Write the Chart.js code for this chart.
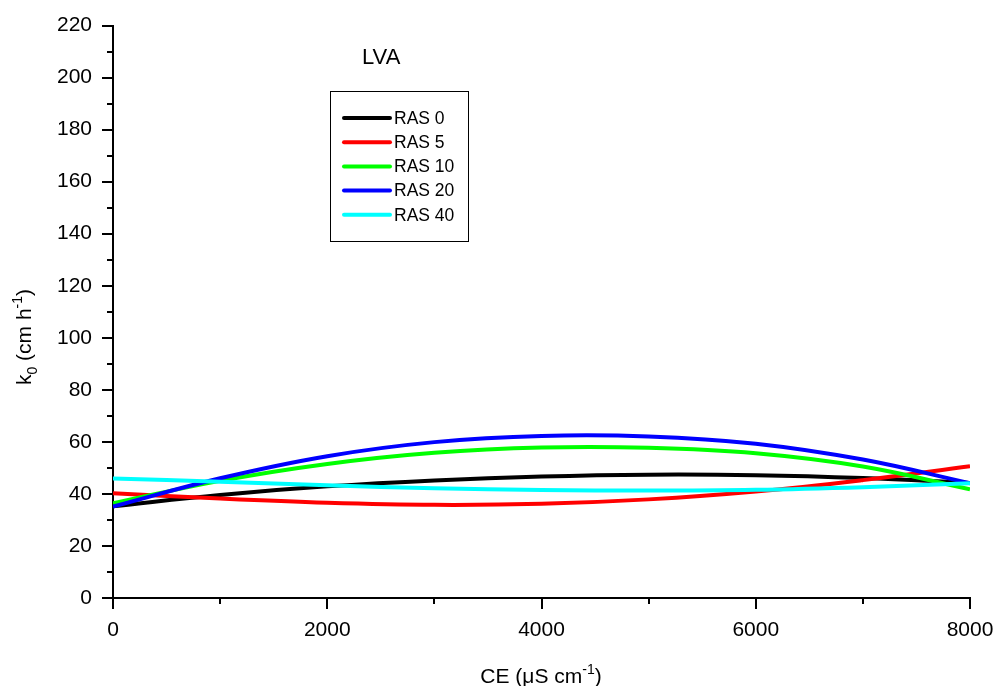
<!DOCTYPE html>
<html>
<head>
<meta charset="utf-8">
<title>LVA – k0 vs CE</title>
<script src="https://cdn.jsdelivr.net/npm/chart.js@4.4.1/dist/chart.umd.min.js"></script>
<style>
  html, body { margin: 0; padding: 0; background: #fff; }
  #wrap { width: 997px; height: 686px; position: relative; }
</style>
</head>
<body>
<div id="wrap"><canvas id="c" width="997" height="686"></canvas></div>
<script>
// Electrical conductivity of irrigation water (µS/cm)
const ceValues = [0, 1000, 2000, 3000, 4000, 5000, 6000, 7000, 8000];

// Fitted k0 (cm/h) for each sodium adsorption ratio level
const ras0  = [35.3, 39.6, 42.9, 45.2, 46.7, 47.4, 47.2, 46.1, 44.2];
const ras5  = [40.3, 38.2, 36.6, 35.8, 36.2, 37.9, 40.9, 45.3, 50.6];
const ras10 = [36.4, 45.0, 51.5, 55.8, 57.8, 57.7, 55.6, 50.5, 41.8];
const ras20 = [35.1, 46.0, 54.5, 59.9, 62.3, 62.1, 59.3, 53.2, 44.1];
const ras40 = [45.9, 44.7, 43.3, 42.2, 41.5, 41.3, 41.6, 42.6, 44.1];

const seriesNames  = ['RAS 0', 'RAS 5', 'RAS 10', 'RAS 20', 'RAS 40'];
const seriesColors = ['#000000', '#ff0000', '#00ff00', '#0000ff', '#00ffff'];
const seriesData   = [ras0, ras5, ras10, ras20, ras40];

const yTickValues = [0, 20, 40, 60, 80, 100, 120, 140, 160, 180, 200, 220];
const xTickValues = [0, 2000, 4000, 6000, 8000];
const panelTitle  = 'LVA';

const FONT = "'Liberation Sans', Arial, Helvetica, sans-serif";

function toPoints(ys) {
  return ys.map((y, i) => ({ x: ceValues[i], y: y }));
}

const datasets = seriesNames.map((name, i) => ({
  label: name,
  data: toPoints(seriesData[i]),
  borderColor: seriesColors[i],
  backgroundColor: seriesColors[i],
  borderWidth: 4,
  pointRadius: 0,
  tension: 0.4,
  fill: false,
  // later series are painted over earlier ones
  order: seriesNames.length - i
}));

// draws a run of text pieces, some as subscripts or superscripts
function drawRich(ctx, parts, x, y, size, align) {
  const measure = p => {
    ctx.font = ((p.sub || p.sup) ? Math.round(size * 0.68) : size) + 'px ' + FONT;
    return ctx.measureText(p.t).width;
  };
  let total = 0;
  parts.forEach(p => { total += measure(p); });
  let cx = align === 'center' ? x - total / 2 : x;
  ctx.textAlign = 'left';
  ctx.textBaseline = 'alphabetic';
  parts.forEach(p => {
    const w = measure(p);
    let dy = 0;
    if (p.sub) dy = size * 0.28;
    if (p.sup) dy = -size * 0.42;
    ctx.fillText(p.t, cx, y + dy);
    cx += w;
  });
}

const decorations = {
  id: 'decorations',
  afterDraw(chart) {
    const ctx = chart.ctx;
    const xs = chart.scales.x, ys = chart.scales.y;
    const area = chart.chartArea;
    ctx.save();
    ctx.strokeStyle = '#000';
    ctx.fillStyle = '#000';
    ctx.lineWidth = 2;

    // y tick marks: long at labelled values, short in between
    for (let v = ys.min; v <= ys.max; v += 10) {
      const py = Math.round(ys.getPixelForValue(v));
      const len = (v % 20 === 0) ? 11 : 6;
      ctx.beginPath();
      ctx.moveTo(area.left - len, py);
      ctx.lineTo(area.left, py);
      ctx.stroke();
    }
    // x tick marks
    for (let v = xs.min; v <= xs.max; v += 1000) {
      const px = Math.round(xs.getPixelForValue(v));
      const len = (v % 2000 === 0) ? 11 : 6;
      ctx.beginPath();
      ctx.moveTo(px, area.bottom);
      ctx.lineTo(px, area.bottom + len);
      ctx.stroke();
    }

    // axis titles
    ctx.fillStyle = '#000';
    drawRich(ctx, [{t: 'CE ('}, {t: 'μ'}, {t: 'S cm'}, {t: '-1', sup: true}, {t: ')'}],
             541, 683, 21, 'center');

    ctx.save();
    ctx.translate(31, 337);
    ctx.rotate(-Math.PI / 2);
    drawRich(ctx, [{t: 'k'}, {t: '0', sub: true}, {t: ' (cm h'}, {t: '-1', sup: true}, {t: ')'}],
             0, 0, 21, 'center');
    ctx.restore();

    // panel title
    ctx.font = '22px ' + FONT;
    ctx.textAlign = 'left';
    ctx.textBaseline = 'alphabetic';
    ctx.fillText(panelTitle, 362, 64);

    // legend box
    ctx.lineWidth = 1;
    ctx.strokeRect(330.5, 91.5, 138, 150);
    const rowY = [118, 142.2, 166.4, 190.6, 214.8];
    chart.data.datasets.forEach((ds, i) => {
      const y = rowY[i];
      ctx.strokeStyle = ds.borderColor;
      ctx.lineWidth = 4;
      ctx.lineCap = 'round';
      ctx.beginPath();
      ctx.moveTo(344, y);
      ctx.lineTo(390, y);
      ctx.stroke();
      ctx.fillStyle = '#000';
      ctx.font = '17.5px ' + FONT;
      ctx.textBaseline = 'middle';
      ctx.fillText(ds.label, 394, y + 1);
    });
    ctx.restore();
  }
};

new Chart(document.getElementById('c'), {
  type: 'line',
  data: { datasets: datasets },
  options: {
    responsive: false,
    animation: false,
    layout: { padding: { top: 25.5, right: 27, left: 0, bottom: 0 } },
    plugins: {
      legend: { display: false },
      title: { display: false },
      tooltip: { enabled: false }
    },
    scales: {
      x: {
        type: 'linear',
        min: 0,
        max: 8000,
        afterFit(scale) {
          scale.height = 88;
          scale.paddingLeft = 0;
          scale.paddingRight = 0;
        },
        afterBuildTicks(scale) { scale.ticks = xTickValues.map(v => ({ value: v })); },
        grid: { display: false, drawTicks: false },
        border: { display: true, color: '#000', width: 2 },
        ticks: {
          color: '#000',
          font: { family: FONT, size: 21 },
          padding: 20,
          maxRotation: 0,
          callback: v => String(v)
        }
      },
      y: {
        type: 'linear',
        min: 0,
        max: 220,
        afterFit(scale) {
          scale.width = 113;
          scale.paddingTop = 0;
          scale.paddingBottom = 0;
        },
        afterBuildTicks(scale) { scale.ticks = yTickValues.map(v => ({ value: v })); },
        grid: { display: false, drawTicks: false },
        border: { display: true, color: '#000', width: 2 },
        ticks: {
          color: '#000',
          font: { family: FONT, size: 21 },
          padding: 21,
          callback: v => String(v)
        }
      }
    }
  },
  plugins: [decorations]
});
</script>
</body>
</html>
